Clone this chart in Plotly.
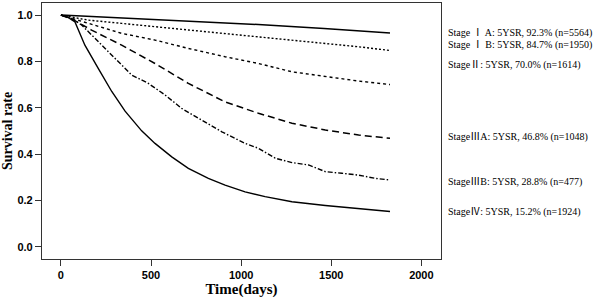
import plotly.graph_objects as go

# ---- data ----
days_IA = [0, 365, 730, 1095, 1460, 1826]
surv_IA = [1.0, 0.987, 0.974, 0.959, 0.942, 0.923]

days_IB = [0, 152, 337, 522, 707, 911, 1096, 1282, 1467, 1652, 1826]
surv_IB = [1.0, 0.978, 0.964, 0.950, 0.935, 0.921, 0.906, 0.892, 0.878, 0.863, 0.847]

days_II = [0, 152, 337, 522, 707, 911, 1096, 1282, 1467, 1652, 1826]
surv_II = [1.0, 0.964, 0.921, 0.892, 0.856, 0.820, 0.791, 0.755, 0.734, 0.715, 0.700]

days_IIIA = [0, 80, 170, 337, 522, 707, 911, 1096, 1282, 1467, 1652, 1826]
surv_IIIA = [1.0, 0.975, 0.935, 0.870, 0.791, 0.705, 0.625, 0.576, 0.533, 0.504, 0.482, 0.468]

days_IIIB = [0, 60, 115, 207, 300, 393, 485, 578, 670, 782, 893, 1022, 1096, 1189,
             1282, 1374, 1467, 1559, 1652, 1744, 1826]
surv_IIIB = [1.0, 0.985, 0.957, 0.885, 0.813, 0.741, 0.705, 0.655, 0.597, 0.547, 0.496,
             0.446, 0.425, 0.382, 0.363, 0.353, 0.324, 0.317, 0.309, 0.295, 0.288]

days_IV = [0, 40, 78, 133, 207, 282, 356, 448, 522, 615, 707, 818, 911, 1022, 1133,
           1282, 1467, 1652, 1826]
surv_IV = [1.0, 0.99, 0.97, 0.87, 0.77, 0.67, 0.585, 0.50, 0.446, 0.388, 0.338, 0.295,
           0.266, 0.237, 0.216, 0.194, 0.178, 0.165, 0.152]

labels = [
    "Stage Ⅰ A: 5YSR, 92.3% (n=5564)",
    "Stage Ⅰ B: 5YSR, 84.7% (n=1950)",
    "StageⅡ: 5YSR, 70.0% (n=1614)",
    "StageⅢA: 5YSR, 46.8% (n=1048)",
    "StageⅢB: 5YSR, 28.8% (n=477)",
    "StageⅣ: 5YSR, 15.2% (n=1924)",
]
label_y = [0.922, 0.870, 0.784, 0.473, 0.279, 0.150]

x_ticks = [0, 500, 1000, 1500, 2000]
y_ticks = [0.0, 0.2, 0.4, 0.6, 0.8, 1.0]

series = [
    (days_IA, surv_IA, "solid", 1.5),
    (days_IB, surv_IB, "2px,2px", 1.4),
    (days_II, surv_II, "3px,3px", 1.4),
    (days_IIIA, surv_IIIA, "7px,4px", 1.5),
    (days_IIIB, surv_IIIB, "5px,2px,1.5px,2px", 1.4),
    (days_IV, surv_IV, "solid", 1.4),
]

fig = go.Figure()
for x, y, dash, w in series:
    fig.add_trace(go.Scatter(x=x, y=y, mode="lines",
                             line=dict(color="black", width=w, dash=dash),
                             showlegend=False, hoverinfo="skip"))

for txt, yy in zip(labels, label_y):
    fig.add_annotation(x=1.012, xref="paper", y=yy, yref="y", text=txt,
                       showarrow=False, xanchor="left", yanchor="middle",
                       font=dict(family="Liberation Serif, Noto Sans CJK SC, serif",
                                 size=10, color="black"))

axis_common = dict(showgrid=False, zeroline=False, showline=True, linecolor="#333",
                   linewidth=1.2, mirror=True, ticks="outside", ticklen=6,
                   tickcolor="#333", tickwidth=1.2, automargin=False,
                   tickfont=dict(family="Liberation Sans, Arial, sans-serif",
                                 size=11, color="black", weight="bold"))

fig.update_xaxes(range=[-105, 2109], tickvals=x_ticks,
                 title=dict(text="Time(days)", standoff=2,
                            font=dict(family="Liberation Serif, Times New Roman, serif",
                                      size=15, color="black", weight="bold")),
                 **axis_common)
fig.update_yaxes(range=[-0.053, 1.052], tickvals=y_ticks, tickformat=".1f",
                 title=dict(text="Survival rate", standoff=4,
                            font=dict(family="Liberation Serif, Times New Roman, serif",
                                      size=14, color="black", weight="bold")),
                 **axis_common)

fig.update_layout(width=600, height=301, margin=dict(l=42, r=159, t=3, b=42, autoexpand=False),
                  paper_bgcolor="white", plot_bgcolor="white")

fig.write_html("out.html", config={"displayModeBar": False},
               post_script="document.body.style.margin='0';document.body.style.overflow='hidden';")
